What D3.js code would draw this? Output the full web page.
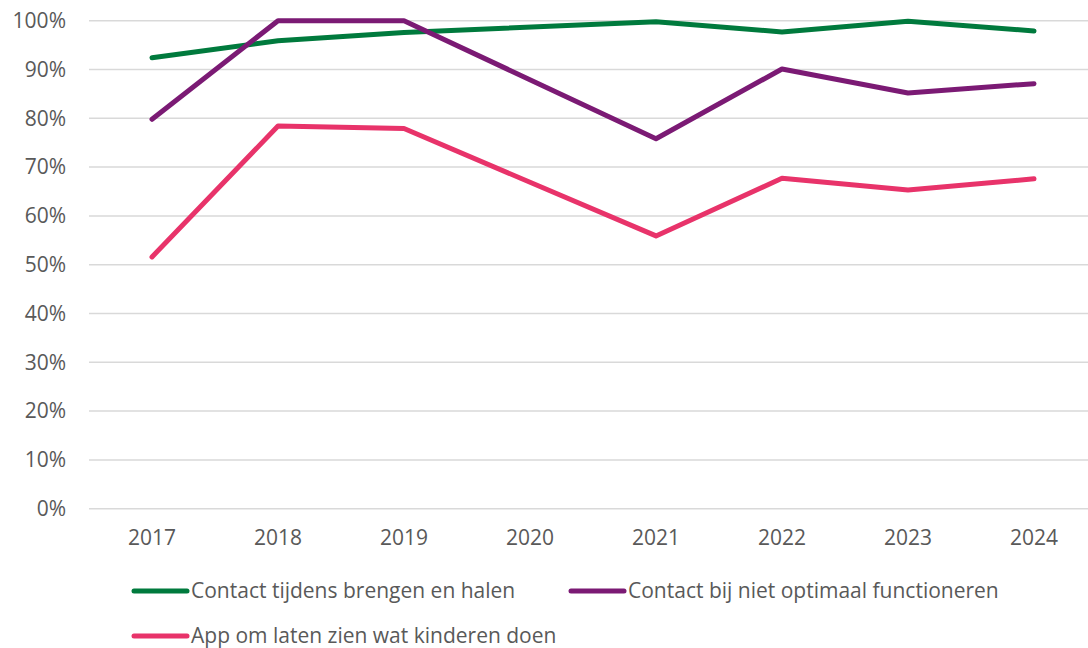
<!DOCTYPE html>
<html>
<head>
<meta charset="utf-8">
<script src="https://cdn.jsdelivr.net/npm/d3@7"></script>
<style>
  body { margin: 0; background: #fff; }
  svg text { font-family: "Open Sans", Lato, sans-serif; fill: #595959; }
</style>
</head>
<body>
<div id="chart"></div>
<script>
// chart data
const years = ["2017", "2018", "2019", "2020", "2021", "2022", "2023", "2024"];
const brengenHalen = [92.4, 95.9, 97.6, null, 99.8, 97.7, 99.9, 97.9];
const nietOptimaal = [79.8, 100, 100, null, 75.8, 90.1, 85.2, 87.1];
const appKinderen = [51.6, 78.4, 77.9, null, 55.9, 67.7, 65.3, 67.6];
const yTicks = [0, 10, 20, 30, 40, 50, 60, 70, 80, 90, 100];

const seriesNames = [
  "Contact tijdens brengen en halen",
  "Contact bij niet optimaal functioneren",
  "App om laten zien wat kinderen doen"
];
const seriesColors = ["#007a3d", "#7b1a74", "#e8336a"];
const seriesValues = [brengenHalen, nietOptimaal, appKinderen];

const width = 1088, height = 648;
const margin = { top: 20.7, left: 89, right: -9, bottom: 139.3 };
const fontSize = 21;

const svg = d3.select("#chart").append("svg")
  .attr("width", width)
  .attr("height", height);

const x = d3.scaleBand()
  .domain(years)
  .range([margin.left, width - margin.right]);

const y = d3.scaleLinear()
  .domain([0, 100])
  .range([height - margin.bottom, margin.top]);

// gridlines
svg.append("g")
  .selectAll("line")
  .data(yTicks)
  .enter()
  .append("line")
  .attr("x1", margin.left)
  .attr("x2", width - margin.right)
  .attr("y1", (d) => y(d))
  .attr("y2", (d) => y(d))
  .attr("stroke", "#d9d9d9")
  .attr("stroke-width", 1.5);

// y labels
svg.append("g")
  .selectAll("text")
  .data(yTicks)
  .enter()
  .append("text")
  .attr("x", 66)
  .attr("y", (d) => y(d))
  .attr("dy", "0.35em")
  .attr("text-anchor", "end")
  .attr("font-size", fontSize)
  .text((d) => d + "%");

// x labels
svg.append("g")
  .selectAll("text")
  .data(years)
  .enter()
  .append("text")
  .attr("x", (d) => x(d) + x.bandwidth() / 2)
  .attr("y", 538)
  .attr("dy", "0.35em")
  .attr("text-anchor", "middle")
  .attr("font-size", fontSize)
  .text((d) => d);

// lines (2020 missing, connected across the gap)
const line = d3.line()
  .x((d) => x(d.year) + x.bandwidth() / 2)
  .y((d) => y(d.value));

seriesValues.forEach((vals, i) => {
  const pts = years
    .map((yr, j) => ({ year: yr, value: vals[j] }))
    .filter((d) => d.value !== null);
  svg.append("path")
    .datum(pts)
    .attr("d", line)
    .attr("fill", "none")
    .attr("stroke", seriesColors[i])
    .attr("stroke-width", 5)
    .attr("stroke-linecap", "round")
    .attr("stroke-linejoin", "round");
});

// legend
const legendPos = [
  { x: 134, y: 591 },
  { x: 571, y: 591 },
  { x: 134, y: 636 }
];

const legend = svg.append("g")
  .selectAll("g")
  .data(seriesNames)
  .enter()
  .append("g")
  .attr("transform", (d, i) => `translate(${legendPos[i].x},${legendPos[i].y})`);

legend.append("line")
  .attr("x1", 0)
  .attr("x2", 53)
  .attr("stroke", (d, i) => seriesColors[i])
  .attr("stroke-width", 5)
  .attr("stroke-linecap", "round");

legend.append("text")
  .attr("x", 57)
  .attr("dy", "0.35em")
  .attr("font-size", fontSize)
  .text((d) => d);
</script>
</body>
</html>
